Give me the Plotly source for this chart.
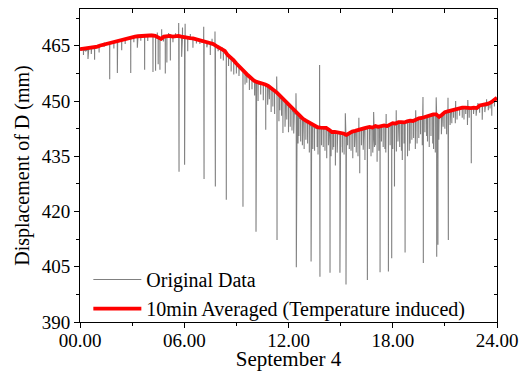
import plotly.graph_objects as go

# ---------------- data ----------------
# 10-min averaged displacement (mm), every 10 minutes from 00:00 to 24:00
avg_10min = [
    464.1, 464.2, 464.2, 464.3, 464.4, 464.6,
    464.8, 465.1, 465.3, 465.6, 465.8, 466.1,
    466.3, 466.5, 466.6, 466.9, 467.0, 467.2,
    467.4, 467.5, 467.6, 467.7, 467.7, 467.8,
    467.8, 467.8, 467.7, 467.3, 466.9, 467.5,
    467.6, 467.7, 467.5, 467.6, 467.7, 467.5,
    467.3, 467.2, 467.1, 467.0, 466.8, 466.6,
    466.4, 466.2, 465.9, 465.7, 465.5, 465.0,
    464.5, 464.3, 463.6, 462.5, 461.9, 461.1,
    460.2, 459.5, 458.6, 457.8, 457.0, 456.2,
    455.6, 455.2, 455.0, 454.8, 454.5, 454.1,
    453.6, 453.0, 452.3, 451.5, 450.7, 449.9,
    449.0, 448.2, 447.3, 446.5, 445.8, 445.2,
    444.7, 444.2, 443.6, 443.1, 442.9, 442.8,
    442.8, 442.7, 442.2, 441.6, 441.6, 441.5,
    441.5, 441.2, 440.8, 441.4, 441.7, 441.9,
    442.2, 442.3, 442.6, 442.8, 443.0, 442.8,
    443.2, 443.0, 443.3, 443.4, 443.2, 443.6,
    444.0, 443.9, 444.3, 444.3, 444.2, 444.5,
    444.7, 444.6, 445.0, 445.3, 445.4, 445.7,
    446.0, 446.2, 446.4, 446.4, 445.7, 446.3,
    447.0, 447.2, 447.4, 447.8, 447.9, 448.1,
    448.2, 448.2, 448.1, 448.1, 448.2, 448.1,
    448.8, 448.9, 449.1, 449.3, 449.7, 450.2,
    450.9,
]

# original data, background level sampled every 10 minutes
orig_base = [
    463.8, 464.0, 463.6, 464.1, 464.3, 464.2,
    464.5, 465.0, 464.9, 465.4, 465.6, 465.8,
    466.1, 466.4, 466.2, 466.8, 466.7, 467.1,
    467.2, 467.4, 467.3, 467.6, 467.5, 467.7,
    467.6, 467.9, 467.4, 467.0, 466.6, 467.8,
    467.4, 467.9, 467.2, 467.5, 467.8, 467.2,
    467.0, 467.4, 466.8, 466.9, 466.5, 466.7,
    466.0, 466.3, 465.6, 465.8, 465.2, 464.8,
    464.2, 464.5, 463.2, 462.6, 461.5, 461.2,
    459.8, 459.6, 458.2, 457.9, 456.6, 456.3,
    455.2, 455.4, 454.6, 454.9, 454.1, 454.2,
    453.2, 453.1, 451.9, 451.6, 450.3, 449.8,
    448.6, 448.3, 446.8, 446.4, 445.3, 445.0,
    444.3, 444.0, 443.1, 442.9, 442.4, 442.6,
    442.4, 442.5, 441.8, 441.3, 441.2, 441.4,
    441.0, 441.1, 440.4, 441.2, 441.3, 441.8,
    441.8, 442.1, 442.2, 442.6, 442.6, 442.5,
    442.8, 442.7, 443.0, 443.1, 442.8, 443.4,
    443.6, 443.6, 444.0, 444.0, 443.8, 444.3,
    444.3, 444.4, 444.6, 445.1, 445.0, 445.5,
    445.6, 446.0, 446.0, 446.2, 445.3, 446.1,
    446.6, 447.0, 447.0, 447.6, 447.5, 447.9,
    447.8, 448.0, 447.7, 447.9, 447.8, 447.9,
    448.4, 448.7, 448.7, 449.1, 449.3, 450.0,
    450.6,
]

# large spikes in the original data: time (hour) and value (mm)
spike_hours = [
    0.20, 0.46, 0.84, 1.71, 2.15, 2.40, 2.92, 3.30, 3.72, 4.20,
    4.35, 4.50, 4.60, 4.70, 4.91, 5.00, 5.20, 5.68, 5.70, 5.85,
    5.90, 6.02, 6.05, 6.20, 6.50, 7.12, 7.14, 7.50, 7.77, 7.79,
    8.10, 8.42, 8.70, 9.00, 9.38, 9.60, 9.90, 10.13, 10.40, 10.69,
    10.90, 11.10, 11.32, 11.34, 11.50, 11.68, 11.90, 12.10, 12.30, 12.43,
    12.45, 12.60, 12.80, 13.00, 13.30, 13.50, 13.65, 13.79, 13.81, 14.00,
    14.20, 14.39, 14.55, 14.70, 14.96, 15.10, 15.27, 15.31, 15.50, 15.70,
    15.90, 16.10, 16.30, 16.54, 16.75, 16.90, 16.95, 17.10, 17.27, 17.45,
    17.60, 17.75, 17.94, 18.10, 18.20, 18.21, 18.40, 18.55, 18.71, 18.85,
    19.00, 19.20, 19.40, 19.60, 19.74, 19.76, 19.95, 20.10, 20.30, 20.45,
    20.50, 20.53, 20.60, 20.80, 21.00, 21.18, 21.20, 21.40, 21.70, 22.00,
    22.30, 22.52, 22.80, 22.90, 23.15, 23.50, 23.70,
]
spike_values = [
    462.5, 461.4, 461.2, 455.9, 457.6, 463.8, 457.6, 464.5, 458.5, 457.9,
    458.2, 460.0, 458.5, 469.5, 457.5, 460.5, 461.0, 471.2, 430.8, 462.0,
    470.0, 432.7, 471.0, 463.5, 464.5, 470.2, 428.8, 462.5, 468.9, 426.8,
    461.5, 423.2, 458.0, 457.5, 421.3, 455.0, 453.2, 414.5, 451.8, 442.2,
    450.5, 448.5, 456.7, 412.3, 447.5, 441.3, 445.0, 443.0, 441.2, 452.1,
    404.9, 440.5, 438.0, 439.5, 406.4, 436.5, 437.5, 459.8, 402.3, 437.5,
    434.5, 403.4, 436.8, 432.5, 403.4, 436.0, 446.7, 400.2, 437.0, 434.5,
    436.0, 430.4, 436.8, 401.4, 435.0, 447.0, 437.5, 433.5, 403.5, 437.5,
    436.0, 403.7, 407.3, 426.8, 447.5, 436.3, 437.5, 434.0, 408.9, 435.0,
    438.5, 440.0, 438.5, 441.0, 451.1, 406.0, 440.5, 437.5, 438.5, 436.0,
    451.0, 407.7, 411.0, 441.0, 442.5, 450.9, 412.3, 444.0, 445.0, 445.5,
    443.5, 433.1, 446.0, 449.5, 444.9, 447.5, 446.0,
]

# small excursions (noise band) in the original data
small_spike_hours = [
    0.65, 1.10, 1.40, 1.95, 2.60, 3.10, 3.50, 3.90, 4.10, 4.45,
    4.80, 5.10, 5.35, 5.50, 6.35, 6.70, 6.90, 7.30, 7.60, 7.95,
    8.25, 8.55, 8.85, 9.15, 9.50, 9.75, 10.05, 10.25, 10.55, 10.80,
    11.00, 11.20, 11.45, 11.60, 11.80, 12.00, 12.20, 12.50, 12.55, 12.70,
    12.90, 13.10, 13.20, 13.40, 13.70, 13.90, 14.10, 14.30, 14.45, 14.60,
    14.80, 15.00, 15.20, 15.40, 15.60, 15.80, 16.00, 16.05, 16.20, 16.40,
    16.65, 16.85, 17.00, 17.20, 17.35, 17.55, 17.62, 17.85, 18.00, 18.30,
    18.50, 18.65, 18.95, 19.10, 19.30, 19.32, 19.50, 19.70, 19.85, 20.00,
    20.20, 20.35, 20.65, 20.90, 21.10, 21.30, 21.50, 21.60, 21.62, 21.85,
    22.10, 22.20, 22.32, 22.40, 22.65, 23.00, 23.30, 23.40, 23.60, 23.85,
]
small_spike_values = [
    462.8, 463.2, 465.9, 464.3, 465.5, 466.0, 466.4, 466.3, 468.3, 468.6,
    466.2, 468.5, 466.0, 468.4, 468.2, 465.6, 465.5, 464.6, 466.9, 463.5,
    461.0, 459.5, 457.2, 456.8, 454.5, 453.0, 451.5, 450.0, 450.2, 449.0,
    447.0, 446.5, 444.5, 446.0, 443.0, 441.5, 442.0, 447.0, 438.5, 439.0,
    437.0, 438.5, 436.0, 437.0, 435.5, 438.0, 436.5, 438.0, 435.0, 437.5,
    436.0, 437.5, 435.5, 438.0, 436.5, 437.5, 435.0, 445.5, 438.0, 434.0,
    437.0, 436.0, 438.0, 436.5, 439.0, 437.0, 446.5, 438.0, 437.0, 439.0,
    436.5, 438.5, 436.5, 439.5, 437.0, 447.5, 440.0, 438.0, 441.5, 439.0,
    440.5, 437.0, 439.5, 443.0, 441.0, 443.5, 445.5, 444.0, 450.0, 446.0,
    445.0, 446.5, 450.3, 445.5, 446.5, 446.8, 447.0, 450.5, 448.0, 448.5,
]

x_tick_vals = [0, 6, 12, 18, 24]
x_tick_text = ["00.00", "06.00", "12.00", "18.00", "24.00"]
y_tick_vals = [390, 405, 420, 435, 450, 465]

# ---------------- build series ----------------
base_hours = [i / 6 for i in range(len(orig_base))]
pts = list(zip(base_hours, orig_base))
all_spikes = list(zip(spike_hours, spike_values)) + list(zip(small_spike_hours, small_spike_values))
for t, v in all_spikes:
    lvl = orig_base[int(round(t * 6))]   # background level at the spike
    pts += [(t - 0.004, lvl), (t, v), (t + 0.004, lvl)]
pts.sort()
orig_x = [p[0] for p in pts]
orig_y = [p[1] for p in pts]
avg_hours = [i / 6 for i in range(len(avg_10min))]

FONT = "Liberation Serif, Times New Roman, serif"

fig = go.Figure()
fig.add_trace(go.Scatter(
    x=orig_x, y=orig_y, mode="lines", name="Original Data",
    line=dict(color="#808080", width=1.1),
))
fig.add_trace(go.Scatter(
    x=avg_hours, y=avg_10min, mode="lines",
    name="10min Averaged (Temperature induced)",
    line=dict(color="#ff0000", width=3.8),
))
# helper trace so that the mirrored (top / right) axes are drawn
fig.add_trace(go.Scatter(x=[None], y=[None], xaxis="x2", yaxis="y2",
                         showlegend=False, hoverinfo="skip"))

fig.update_layout(
    width=519, height=371,
    margin=dict(l=80, r=22, t=9, b=49, autoexpand=False),
    paper_bgcolor="white", plot_bgcolor="white",
    font=dict(family=FONT, color="black", size=19),
    showlegend=True,
    legend=dict(
        x=0.02, y=0.198, xanchor="left", yanchor="top",
        bgcolor="rgba(0,0,0,0)", borderwidth=0,
        font=dict(family=FONT, size=20, color="black"),
        itemwidth=48, tracegroupgap=0,
    ),
    xaxis=dict(
        range=[0, 24], tickmode="array", tickvals=x_tick_vals, ticktext=x_tick_text,
        ticks="outside", ticklen=5, tickwidth=1, tickcolor="black",
        showline=True, linecolor="black", linewidth=1, mirror=False,
        showgrid=False, zeroline=False, automargin=False, ticklabelstandoff=-4,
        minor=dict(dtick=3, tick0=0, ticks="outside", ticklen=3, tickcolor="black", showgrid=False),
        tickfont=dict(family=FONT, size=19),
        title=dict(text="September 4", font=dict(family=FONT, size=21), standoff=2),
    ),
    yaxis=dict(
        range=[390, 475], tickmode="array", tickvals=y_tick_vals,
        ticks="outside", ticklen=5, tickwidth=1, tickcolor="black",
        showline=True, linecolor="black", linewidth=1, mirror=False,
        showgrid=False, zeroline=False, automargin=False,
        minor=dict(dtick=7.5, tick0=390, ticks="outside", ticklen=3, tickcolor="black", showgrid=False),
        tickfont=dict(family=FONT, size=19),
        title=dict(text="Displacement of D (mm)", font=dict(family=FONT, size=20), standoff=6),
    ),
    xaxis2=dict(
        overlaying="x", side="top", range=[0, 24], tickmode="linear", tick0=0, dtick=3,
        ticks="inside", ticklen=4, tickcolor="black", showticklabels=False, automargin=False,
        showline=True, linecolor="black", linewidth=1, showgrid=False, zeroline=False,
    ),
    yaxis2=dict(
        overlaying="y", side="right", range=[390, 475], tickmode="linear", tick0=390, dtick=7.5,
        ticks="inside", ticklen=3, tickcolor="black", showticklabels=False, automargin=False,
        showline=True, linecolor="black", linewidth=1, showgrid=False, zeroline=False,
    ),
)

fig.write_html("out.html", config={"displayModeBar": False},
               post_script="document.body.style.margin='0px';")
